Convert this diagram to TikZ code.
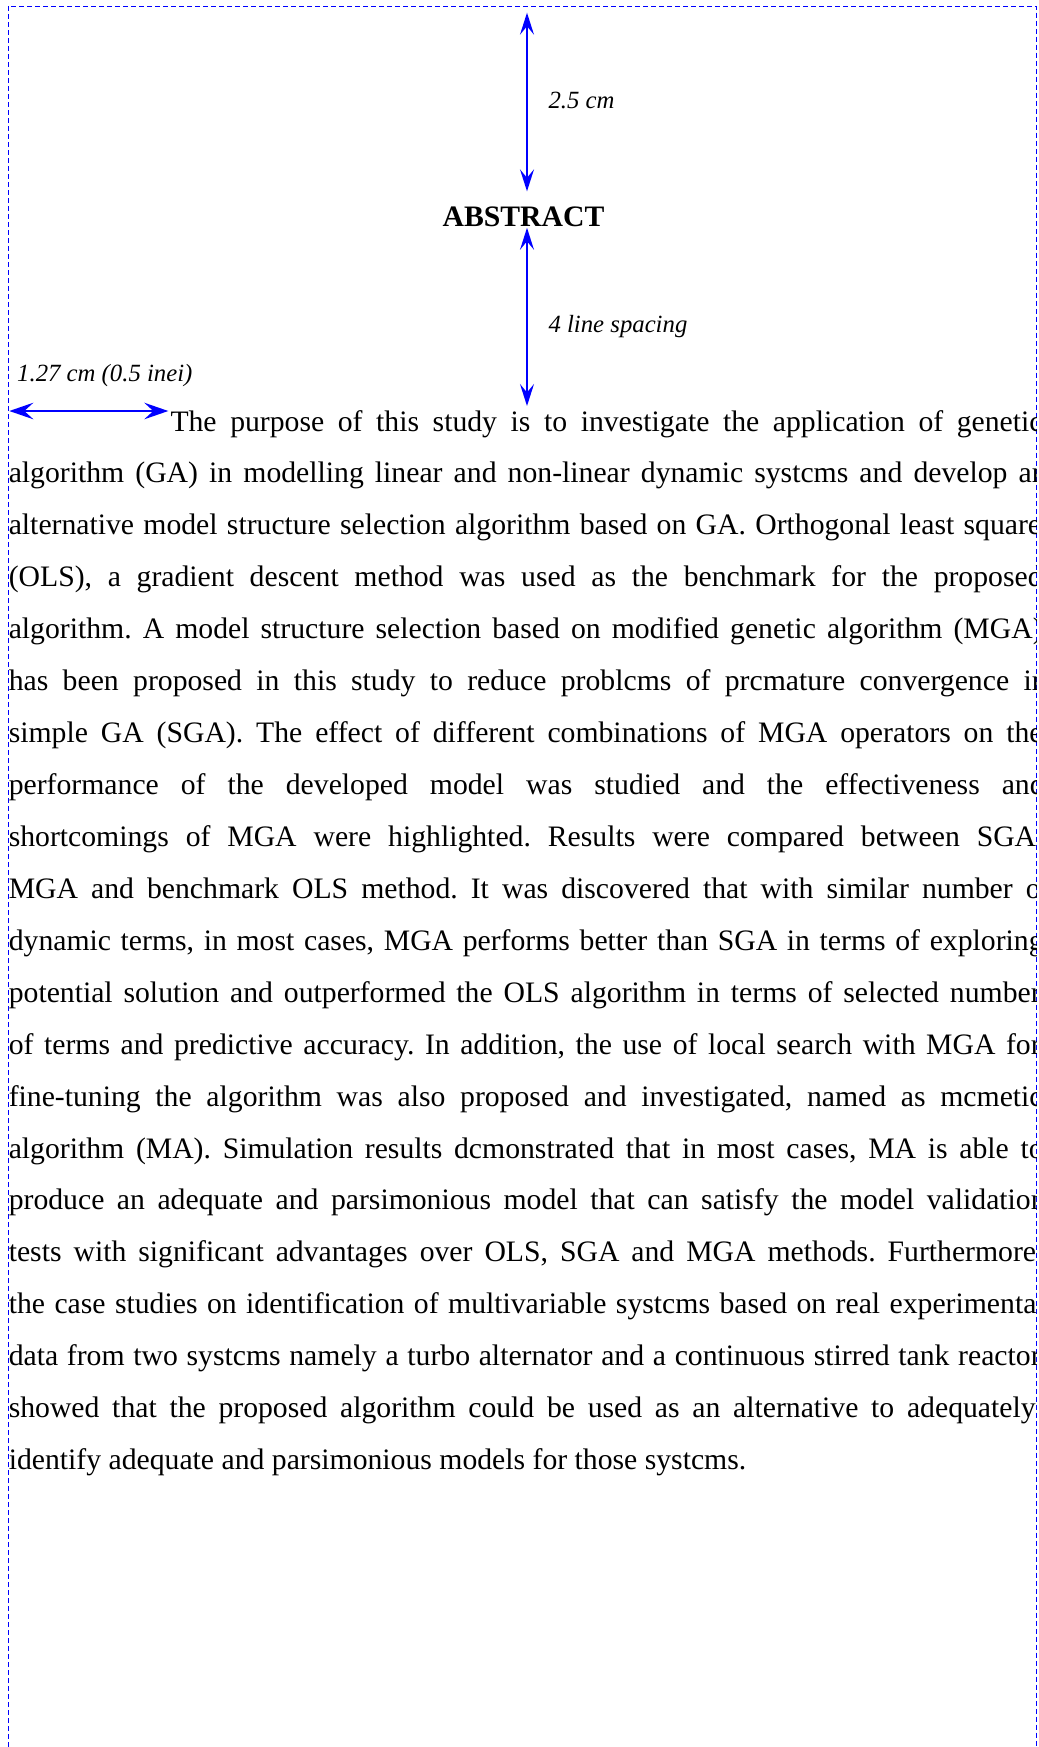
\documentclass[tikz,border=0pt]{standalone}
\usepackage{fontspec}
\setmainfont{Liberation Serif}
\usetikzlibrary{arrows.meta}
\frenchspacing
\newcommand{\jline}[2]{\makebox[#1][s]{#2}}
\tikzset{
  pageframe/.style={blue, line width=0.4pt, dash pattern=on 2pt off 1.2pt},
  vdim/.style={blue, line width=0.7pt,
    {Stealth[length=8.8pt,width=5.6pt,inset=3.4pt]}-{Stealth[length=8.8pt,width=5.6pt,inset=3.4pt]}},
  hdim/.style={blue, line width=0.9pt,
    {Stealth[length=9.6pt,width=6.6pt,inset=3.6pt]}-{Stealth[length=9.6pt,width=6.6pt,inset=3.6pt]}},
  lbl/.style={font=\fontsize{9.9}{12}\selectfont\itshape, inner sep=0, anchor=base west},
  body/.style={font=\fontsize{11.88}{14}\selectfont, inner sep=0, anchor=base west},
}
\begin{document}
\begin{tikzpicture}[x=0.4pt,y=-0.4pt]
\useasboundingbox (0,0) rectangle (1039,1747);
% page frame (open at the bottom)
\draw[pageframe] (8,1747) -- (8,6) -- (1036.5,6) -- (1036.5,1747);

% title
\node[font=\fontsize{11.88}{14}\selectfont\bfseries, inner sep=0, anchor=base] (abs) at (523.5,226) {ABSTRACT};

% dimension arrows
\coordinate (t1) at (527,12.7);
\coordinate (b2) at (527,406);
\draw[vdim, shorten >=5.8pt] (t1) -- (abs.north -| t1);
\draw[vdim, shorten <=0.4pt] (abs.south -| t1) -- (b2);
\node[lbl] (lab1) at (548,108) {2.5 cm};
\node[lbl] (lab2) at (548,332) {4 line spacing};
\node[lbl] (lab3) at (16.7,381) {1.27 cm (0.5 inei)};
\coordinate (h1) at (9.3,411);
\coordinate (h2) at (168.3,411);
\draw[hdim] (h1) -- (h2);

% abstract body, clipped at the frame
\begin{scope}
\clip (0,0) rectangle (1036.5,1747);
\node[body] (l1) at (170,431) {\jline{348.8pt}{The purpose of this study is to investigate the application of genetic}};
\node[body] (l2) at (8.3,482.93) {\jline{415.1pt}{algorithm (GA) in modelling linear and non-linear dynamic systcms and develop an}};
\node[body] (l3) at (8.3,534.86) {\jline{417.5pt}{alternative model structure selection algorithm based on GA. Orthogonal least squares}};
\node[body] (l4) at (8.3,586.79) {\jline{413.5pt}{(OLS), a gradient descent method was used as the benchmark for the proposed}};
\node[body] (l5) at (8.3,638.72) {\jline{413.5pt}{algorithm. A model structure selection based on modified genetic algorithm (MGA)}};
\node[body] (l6) at (8.3,690.65) {\jline{415.1pt}{has been proposed in this study to reduce problcms of prcmature convergence in}};
\node[body] (l7) at (8.3,742.58) {\jline{413.5pt}{simple GA (SGA). The effect of different combinations of MGA operators on the}};
\node[body] (l8) at (8.3,794.51) {\jline{414.3pt}{performance of the developed model was studied and the effectiveness and}};
\node[body] (l9) at (8.3,846.44) {\jline{413.9pt}{shortcomings of MGA were highlighted. Results were compared between SGA,}};
\node[body] (l10) at (8.3,898.37) {\jline{416.7pt}{MGA and benchmark OLS method. It was discovered that with similar number of}};
\node[body] (l11) at (8.3,950.3) {\jline{413.9pt}{dynamic terms, in most cases, MGA performs better than SGA in terms of exploring}};
\node[body] (l12) at (8.3,1002.23) {\jline{412.7pt}{potential solution and outperformed the OLS algorithm in terms of selected number}};
\node[body] (l13) at (8.3,1054.16) {\jline{412.7pt}{of terms and predictive accuracy. In addition, the use of local search with MGA for}};
\node[body] (l14) at (8.3,1106.09) {\jline{413.5pt}{fine-tuning the algorithm was also proposed and investigated, named as mcmetic}};
\node[body] (l15) at (8.3,1158.02) {\jline{413.9pt}{algorithm (MA). Simulation results dcmonstrated that in most cases, MA is able to}};
\node[body] (l16) at (8.3,1209.95) {\jline{414.7pt}{produce an adequate and parsimonious model that can satisfy the model validation}};
\node[body] (l17) at (8.3,1261.88) {\jline{413.9pt}{tests with significant advantages over OLS, SGA and MGA methods. Furthermore,}};
\node[body] (l18) at (8.3,1313.81) {\jline{414.3pt}{the case studies on identification of multivariable systcms based on real experimental}};
\node[body] (l19) at (8.3,1365.74) {\jline{412.7pt}{data from two systcms namely a turbo alternator and a continuous stirred tank reactor}};
\node[body] (l20) at (8.3,1417.67) {\jline{410.7pt}{showed that the proposed algorithm could be used as an alternative to adequately}};
\node[body] (l21) at (8.3,1469.6) {identify adequate and parsimonious models for those systcms.};
\end{scope}
\end{tikzpicture}
\end{document}
